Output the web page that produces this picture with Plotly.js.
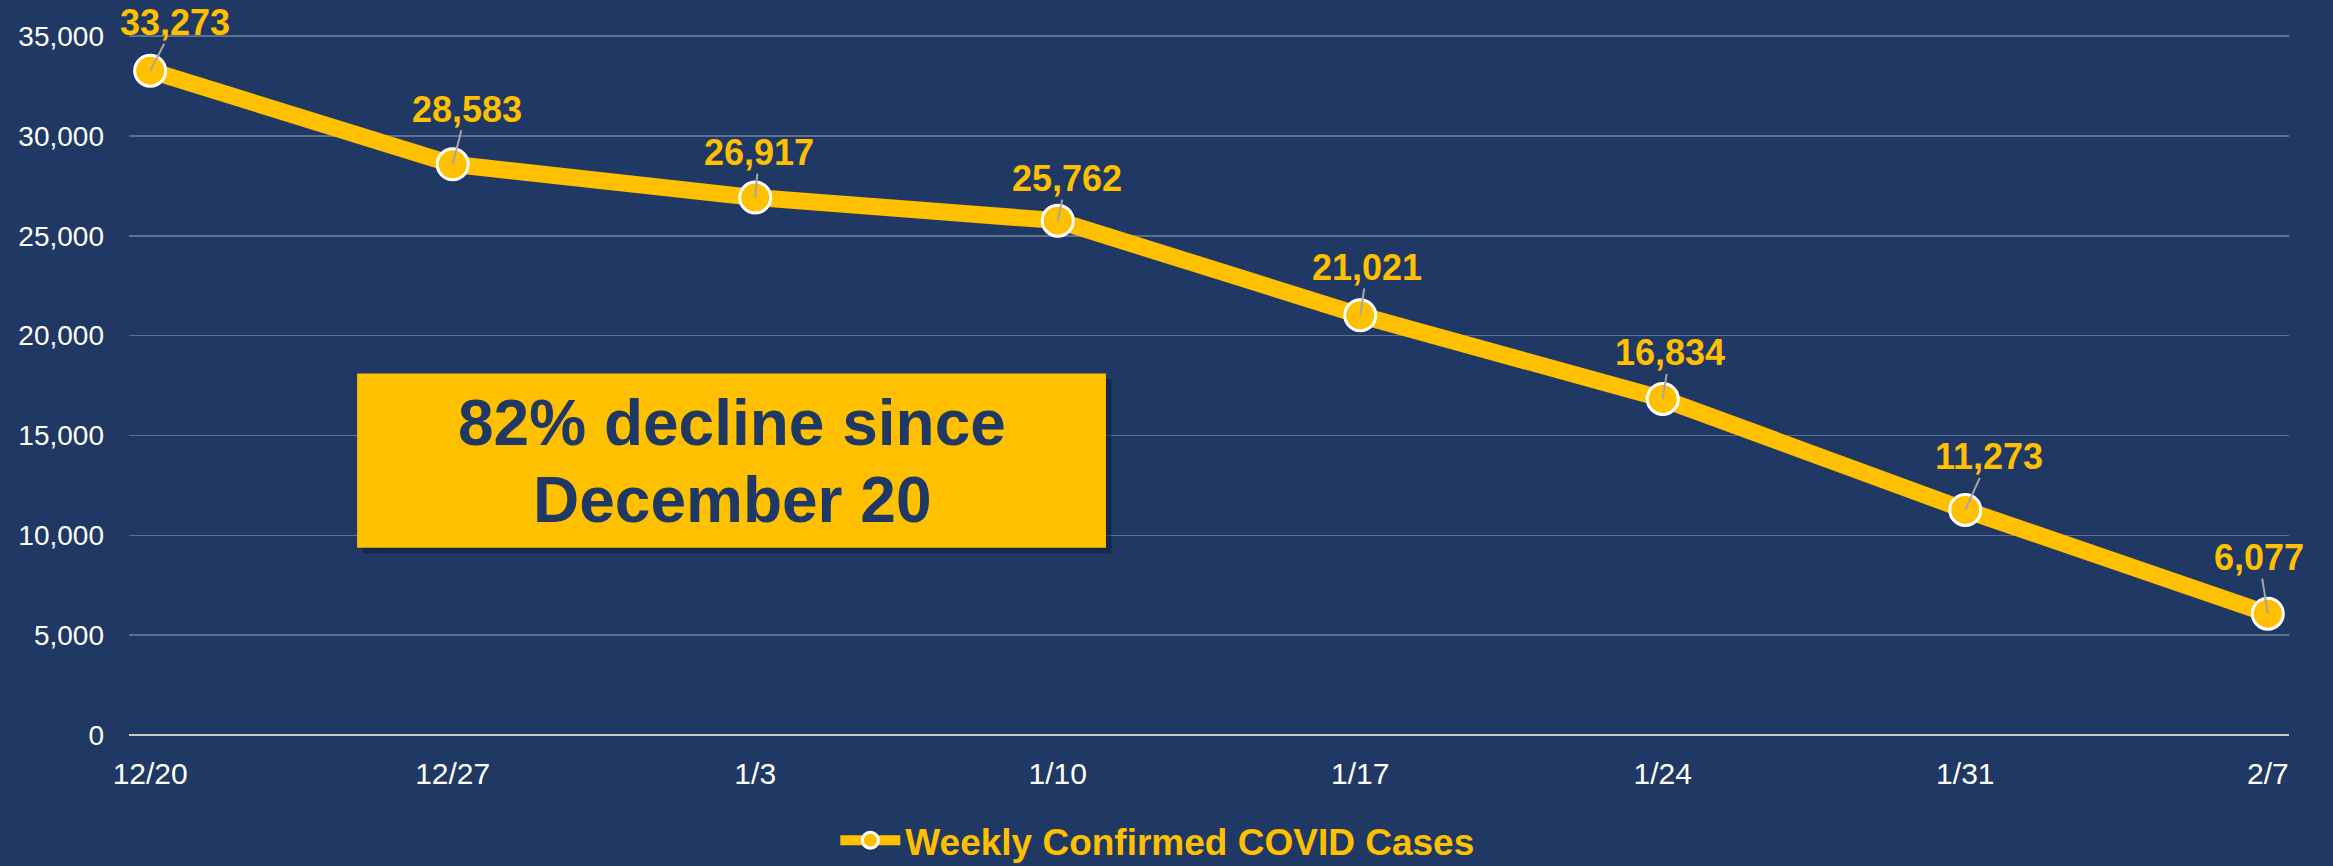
<!DOCTYPE html>
<html>
<head>
<meta charset="utf-8">
<script src="https://cdn.plot.ly/plotly-3.0.1.min.js"></script>
<style>
  html, body { margin: 0; padding: 0; background: #203864; }
  #chart { width: 2333px; height: 866px; }
</style>
</head>
<body>
<div id="chart"></div>
<script>
// ---- data ----
const weeks = ["12/20", "12/27", "1/3", "1/10", "1/17", "1/24", "1/31", "2/7"];
const weeklyCases = [33273, 28583, 26917, 25762, 21021, 16834, 11273, 6077];
const seriesName = "Weekly Confirmed COVID Cases";
const calloutLines = ["82% decline since", "December 20"];
const yTicks = [0, 5000, 10000, 15000, 20000, 25000, 30000, 35000];

// label offsets (pixels) of each data label relative to its point
const labelDX = [25, 14, 4, 9, 7, 7, 24, -9];
const labelDY = [-48, -55, -45, -42, -48, -46, -53, -56];

const NAVY = "#203864";
const GOLD = "#FFC000";
const FONT = "'Liberation Sans', Arial, sans-serif";

const trace = {
  type: "scatter",
  mode: "lines+markers",
  x: weeks,
  y: weeklyCases,
  name: seriesName,
  line: { color: GOLD, width: 17 },
  marker: { color: GOLD, size: 31, line: { color: "#FFFFFF", width: 3 } },
  cliponaxis: false,
  hoverinfo: "x+y"
};

const fmt = v => v.toLocaleString("en-US");

const labelAnnots = weeks.map((w, i) => ({
  x: w, y: weeklyCases[i], xref: "x", yref: "y",
  text: fmt(weeklyCases[i]),
  showarrow: true, arrowhead: 0, arrowwidth: 2, arrowcolor: "#A6A6A6",
  standoff: 0,
  ax: labelDX[i], ay: labelDY[i],
  borderpad: 0,
  font: { family: FONT, size: 36, color: GOLD, weight: "bold" }
}));

const box = { x0: 0.1056, x1: 0.4523, y0: 0.2675, y1: 0.5165 };
const boxMidY = (box.y0 + box.y1) / 2;

const layout = {
  width: 2333, height: 866,
  paper_bgcolor: NAVY, plot_bgcolor: NAVY,
  margin: { l: 129, r: 44, t: 35, b: 131, autoexpand: false },
  font: { family: FONT, color: "#FFFFFF" },
  showlegend: true,
  legend: {
    orientation: "h",
    x: 0.327, xanchor: "left",
    y: -0.151, yanchor: "middle",
    font: { family: FONT, size: 37, color: GOLD, weight: "bold" },
    bgcolor: "rgba(0,0,0,0)",
    itemwidth: 60
  },
  xaxis: {
    type: "category",
    categoryorder: "array", categoryarray: weeks,
    range: [-0.07, 7.07],
    showgrid: false, zeroline: false, showline: false,
    ticks: "", ticklabelstandoff: 18,
    tickfont: { family: FONT, size: 30, color: "#FFFFFF" },
    fixedrange: true
  },
  yaxis: {
    range: [0, 35060],
    tickvals: yTicks,
    tickformat: ",d",
    showgrid: true, gridcolor: "rgba(255,255,255,0.28)", gridwidth: 1.5,
    zeroline: true, zerolinecolor: "#C9C9C9", zerolinewidth: 2.5,
    showline: false,
    ticks: "", ticklabelstandoff: 24,
    tickfont: { family: FONT, size: 28, color: "#FFFFFF" },
    fixedrange: true
  },
  shapes: [
    { type: "rect", xref: "paper", yref: "paper",
      x0: box.x0 + 0.0025, x1: box.x1 + 0.0025, y0: box.y0 - 0.008, y1: box.y1 - 0.008,
      fillcolor: "rgba(10,20,40,0.45)", line: { width: 0 }, layer: "above" },
    { type: "rect", xref: "paper", yref: "paper",
      x0: box.x0, x1: box.x1, y0: box.y0, y1: box.y1,
      fillcolor: GOLD, line: { width: 0 }, layer: "above" }
  ],
  annotations: labelAnnots.concat(calloutLines.map((t, k) => ({
    xref: "paper", yref: "paper",
    x: (box.x0 + box.x1) / 2, y: boxMidY,
    xanchor: "center", yanchor: "middle",
    yshift: k === 0 ? 38 : -39,
    showarrow: false,
    text: t,
    align: "center",
    font: { family: FONT, size: 64, color: NAVY, weight: "bold" }
  })))
};

Plotly.newPlot("chart", [trace], layout, { displayModeBar: false, staticPlot: true });
</script>
</body>
</html>
